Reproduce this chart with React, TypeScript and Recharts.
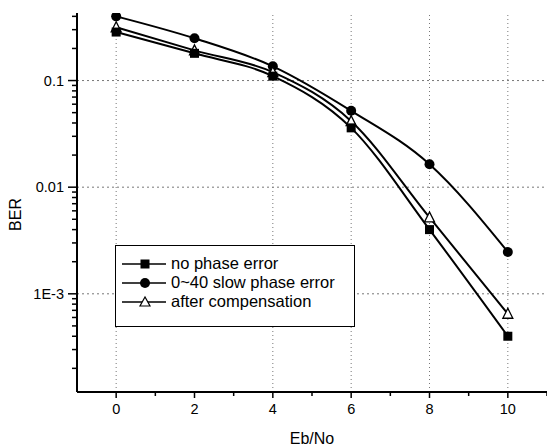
import React from 'react';
import { LineChart, Line, XAxis, YAxis, ReferenceLine, Legend } from 'recharts';

const ebno = [0, 2, 4, 6, 8, 10];
const noPhaseError = [0.285, 0.18, 0.11, 0.036, 0.0040, 0.00040];
const slowPhaseError = [0.40, 0.249, 0.136, 0.052, 0.0164, 0.00247];
const afterCompensation = [0.316, 0.192, 0.12, 0.0416, 0.0052, 0.00065];

const seriesNames = ['no phase error', '0~40 slow phase error', 'after compensation'];

const xTicks = [0, 1, 2, 3, 4, 5, 6, 7, 8, 9, 10, 11];
const xMajor = [0, 2, 4, 6, 8, 10];
const xGrid = [0, 4, 6, 8, 10];
const yMajor = [0.001, 0.01, 0.1];
const yTicks = [
  0.0002, 0.0003, 0.0004, 0.0005, 0.0006, 0.0007, 0.0008, 0.0009,
  0.001, 0.002, 0.003, 0.004, 0.005, 0.006, 0.007, 0.008, 0.009,
  0.01, 0.02, 0.03, 0.04, 0.05, 0.06, 0.07, 0.08, 0.09,
  0.1, 0.2, 0.3, 0.4,
];
const yLabels: Record<string, string> = { '0.001': '1E-3', '0.01': '0.01', '0.1': '0.1' };

const data = ebno.map((x, i) => ({
  x,
  a: noPhaseError[i],
  b: slowPhaseError[i],
  c: afterCompensation[i],
}));

const FONT = '"Liberation Sans", Arial, sans-serif';

const XTick = (props: any) => {
  const { x, y, payload } = props;
  const v = payload.value;
  const major = xMajor.includes(v);
  return (
    <g>
      <line x1={x} x2={x} y1={y} y2={y + (major ? 6 : 4)} stroke="#000" strokeWidth={1.5} />
      {major && (
        <text x={x} y={y + 22} textAnchor="middle" fontSize={14.5} fontFamily={FONT} fill="#000">
          {v}
        </text>
      )}
    </g>
  );
};

const YTick = (props: any) => {
  const { x, y, payload } = props;
  const v = payload.value;
  const key = String(v);
  const major = yLabels[key] !== undefined;
  return (
    <g>
      <line x1={x - (major ? 9 : 5)} x2={x} y1={y} y2={y} stroke="#000" strokeWidth={1.5} />
      {major && (
        <text x={x - 13} y={y + 5} textAnchor="end" fontSize={14.5} fontFamily={FONT} fill="#000">
          {yLabels[key]}
        </text>
      )}
    </g>
  );
};

const Square = (props: any) => {
  const { cx, cy } = props;
  if (cx == null || cy == null) return null;
  return <rect x={cx - 4.5} y={cy - 4.5} width={9} height={9} fill="#000" />;
};
const Circle = (props: any) => {
  const { cx, cy } = props;
  if (cx == null || cy == null) return null;
  return <circle cx={cx} cy={cy} r={5} fill="#000" />;
};
const Triangle = (props: any) => {
  const { cx, cy } = props;
  if (cx == null || cy == null) return null;
  return (
    <polygon
      points={`${cx},${cy - 5.5} ${cx - 5},${cy + 4.5} ${cx + 5},${cy + 4.5}`}
      fill="#fff"
      stroke="#000"
      strokeWidth={1.3}
    />
  );
};

const markerIcons = [
  (cx: number, cy: number) => <rect x={cx - 4.5} y={cy - 4.5} width={9} height={9} fill="#000" />,
  (cx: number, cy: number) => <circle cx={cx} cy={cy} r={5} fill="#000" />,
  (cx: number, cy: number) => (
    <polygon
      points={`${cx},${cy - 5} ${cx - 5},${cy + 4} ${cx + 5},${cy + 4}`}
      fill="#fff"
      stroke="#000"
      strokeWidth={1.2}
    />
  ),
];

const LegendBox = () => (
  <div
    style={{
      border: '1.5px solid #000',
      background: '#fff',
      width: 240,
      height: 82,
      boxSizing: 'border-box',
      padding: '8px 0 0 4px',
      fontFamily: FONT,
      fontSize: 16.5,
      lineHeight: '19px',
      color: '#000',
    }}
  >
    {seriesNames.map((name, i) => (
      <div key={name} style={{ display: 'flex', alignItems: 'center', height: 19 }}>
        <svg width={48} height={14} style={{ display: 'block' }}>
          <line x1={2} x2={46} y1={7} y2={7} stroke="#000" strokeWidth={1.3} />
          {markerIcons[i](25, 7)}
        </svg>
        <span style={{ marginLeft: 3 }}>{name}</span>
      </div>
    ))}
  </div>
);

export default function App() {
  return (
    <div style={{ position: 'absolute', left: 0, top: 0, background: '#fff' }}>
      <LineChart
        width={547}
        height={447}
        data={data}
        margin={{ top: 13, right: 0, bottom: 0, left: 0 }}
      >
        {xGrid.map((v) => (
          <ReferenceLine key={'vx' + v} x={v} stroke="#777" strokeDasharray="1 3" strokeWidth={1} />
        ))}
        {yMajor.map((v) => (
          <ReferenceLine key={'hy' + v} y={v} stroke="#777" strokeDasharray="2 3" strokeWidth={1} />
        ))}
        <XAxis
          dataKey="x"
          type="number"
          domain={[-1, 11]}
          ticks={xTicks}
          interval={0}
          height={55}
          tickSize={0}
          tickMargin={0}
          tickLine={false}
          tick={<XTick />}
          axisLine={{ stroke: '#000', strokeWidth: 2 }}
          allowDataOverflow
          label={{
            content: (p: any) => {
              const vb = p.viewBox;
              return (
                <text
                  x={vb.x + vb.width / 2}
                  y={vb.y + 52}
                  textAnchor="middle"
                  fontSize={16}
                  fontFamily={FONT}
                  fill="#000"
                >
                  Eb/No
                </text>
              );
            },
          }}
        />
        <YAxis
          type="number"
          scale="log"
          domain={[0.00012, 0.43]}
          ticks={yTicks}
          interval={0}
          width={77}
          tickSize={0}
          tickMargin={0}
          tickLine={false}
          tick={<YTick />}
          axisLine={{ stroke: '#000', strokeWidth: 2 }}
          allowDataOverflow
          label={{
            content: (p: any) => {
              const vb = p.viewBox;
              const cy = vb.y + vb.height / 2 + 12;
              return (
                <text
                  x={21}
                  y={cy}
                  textAnchor="middle"
                  fontSize={16}
                  fontFamily={FONT}
                  fill="#000"
                  transform={`rotate(-90, 21, ${cy})`}
                >
                  BER
                </text>
              );
            },
          }}
        />
        <Line
          dataKey="b"
          name={seriesNames[1]}
          type="monotone"
          stroke="#000"
          strokeWidth={2}
          dot={<Circle />}
          isAnimationActive={false}
        />
        <Line
          dataKey="c"
          name={seriesNames[2]}
          type="monotone"
          stroke="#000"
          strokeWidth={2}
          dot={<Triangle />}
          isAnimationActive={false}
        />
        <Line
          dataKey="a"
          name={seriesNames[0]}
          type="monotone"
          stroke="#000"
          strokeWidth={2}
          dot={<Square />}
          isAnimationActive={false}
        />
        <Legend
          layout="vertical"
          align="center"
          verticalAlign="middle"
          content={<LegendBox />}
          wrapperStyle={{ position: 'absolute', left: 115, top: 245, width: 240, height: 82, bottom: 'auto', right: 'auto' }}
        />
      </LineChart>
    </div>
  );
}
